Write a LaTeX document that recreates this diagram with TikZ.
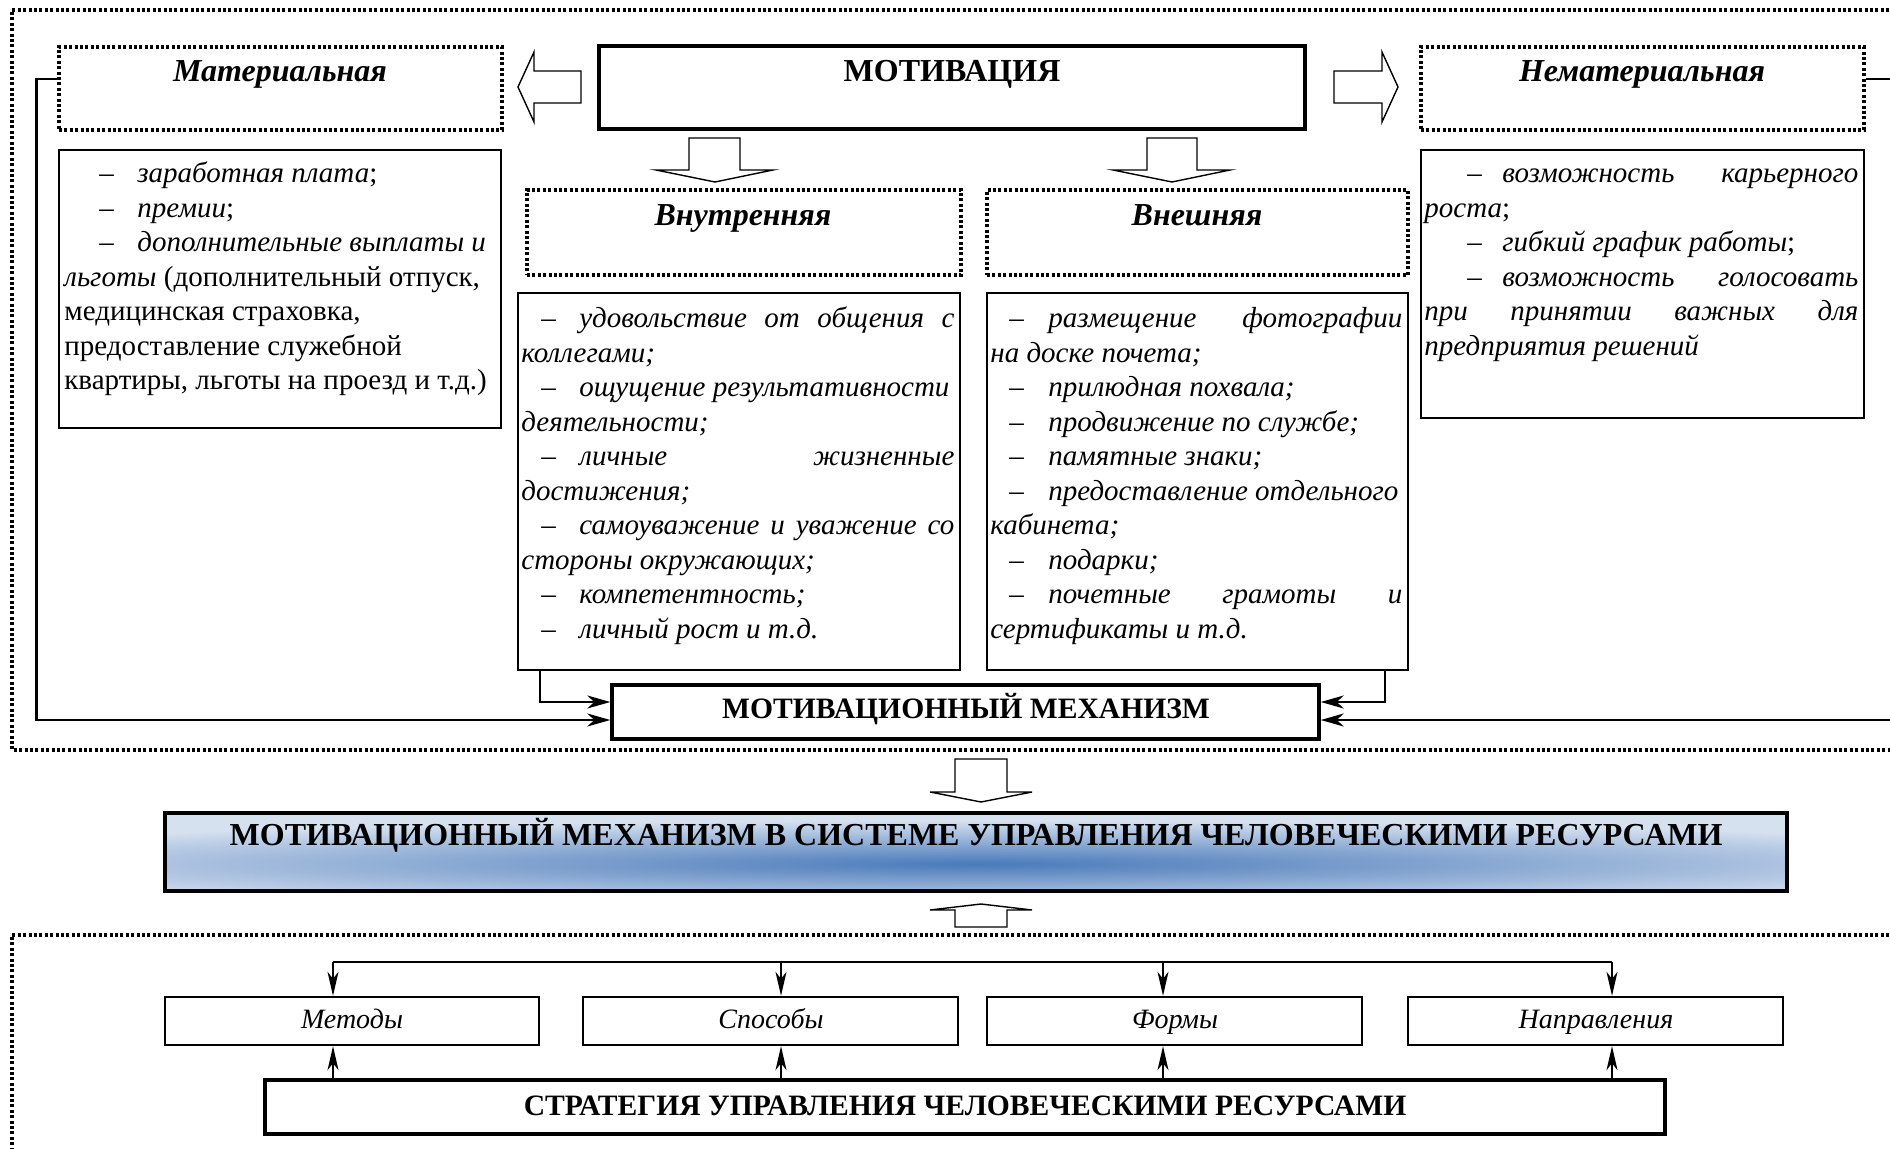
\documentclass[tikz,border=0pt]{standalone}
\usepackage{fontspec}
\setmainfont{Liberation Serif}
\usetikzlibrary{arrows.meta,fit,calc}
\definecolor{glight}{RGB}{214,225,240}
\definecolor{gdark}{RGB}{74,122,186}
\newcommand\rs{\spaceskip=0pt\xspaceskip=0pt\relax}
\newcommand\lead[2]{\makebox[#2][l]{\hspace*{#1}–}}
\newcommand\jl[2]{\makebox[#1][s]{\rs#2}}
\newcommand\bodyfont{\fontsize{14.5}{17.25}\selectfont}
\newcommand\headfont{\fontsize{16}{19}\selectfont\bfseries}
\newcommand\midfont{\fontsize{14.8}{18}\selectfont\bfseries}
\newcommand\smallfont{\fontsize{14}{16}\selectfont\itshape}
\begin{document}
\begin{tikzpicture}[x=0.5pt,y=-0.5pt,
  frame/.style={line width=1.6pt, dash pattern=on 1.5pt off 1.2pt},
  dotbox/.style={draw, line width=1.6pt, dash pattern=on 1.5pt off 1.2pt, inner sep=0pt},
  thinbox/.style={draw, line width=0.75pt, inner sep=0pt},
  thickbox/.style={draw, line width=1.7pt, inner sep=0pt},
  midbox/.style={draw, line width=1.2pt, inner sep=0pt},
  hollow/.style={draw, line width=0.7pt, fill=white, line join=miter},
  conn/.style={line width=1.1pt},
  arr/.style={conn, -{Stealth[length=11.5pt, width=6.5pt, inset=3.5pt]}},
  conn2/.style={line width=0.9pt},
  arr2/.style={conn2, -{Stealth[length=12pt, width=5.5pt, inset=3.5pt]}},
  head/.style={font=\headfont, inner sep=0pt, anchor=base},
  midhead/.style={font=\midfont, inner sep=0pt, anchor=base},
  ttl/.style={font=\headfont\itshape, inner sep=0pt, anchor=base},
  list/.style={font=\bodyfont\itshape, inner sep=0pt, anchor=north west, align=left},
  small/.style={font=\smallfont, inner sep=0pt, anchor=base}]
\useasboundingbox (0,0) rectangle (1890,1149);
\fill[white] (0,0) rectangle (1890,1149);

% outer dotted frames
\draw[frame] (1900,10) -- (12,10) -- (12,750) -- (1900,750);
\draw[frame] (1900,935) -- (12,935) -- (12,1160);

% top boxes
\node[dotbox, fit={(59,47) (502,130)}] (matB) {};
\node[ttl] (matT) at (280,82) {Материальная};
\node[thickbox, fit={(599,46) (1305,129)}] (motB) {};
\node[head] (motT) at (952,82) {МОТИВАЦИЯ};
\node[dotbox, fit={(1421,47) (1864,130)}] (nemB) {};
\node[ttl] (nemT) at (1642,82) {Нематериальная};

% hollow arrows left/right
\draw[hollow] (581,71) -- (534,71) -- (534,52) -- (518,87) -- (534,122) -- (534,103) -- (581,103) -- cycle;
\draw[hollow] (1334,71) -- (1382,71) -- (1382,52) -- (1398,87) -- (1382,122) -- (1382,103) -- (1334,103) -- cycle;
% hollow arrows down
\draw[hollow] (689,138) -- (740,138) -- (740,170) -- (773,170) -- (715,182) -- (656,170) -- (689,170) -- cycle;
\draw[hollow] (1147,138) -- (1197,138) -- (1197,170) -- (1230,170) -- (1172,182) -- (1113,170) -- (1147,170) -- cycle;

% second row titles
\node[dotbox, fit={(527,190) (961,275)}] (inB) {};
\node[ttl] (inT) at (743,226) {Внутренняя};
\node[dotbox, fit={(987,190) (1408,275)}] (exB) {};
\node[ttl] (exT) at (1197,226) {Внешняя};

% list boxes
\node[thinbox, fit={(59,150) (501,428)}] (matL) {};
\node[list, font=\bodyfont, text width=216.5pt] (matX) at (64,158) {\rs\strut\lead{17.5pt}{36.5pt}\textit{заработная плата};\\
\lead{17.5pt}{36.5pt}\textit{премии};\\
\lead{17.5pt}{36.5pt}\textit{дополнительные выплаты и}\\
\textit{льготы} (дополнительный отпуск,\\
медицинская страховка,\\
предоставление служебной\\
квартиры, льготы на проезд и т.д.)};

\node[thinbox, fit={(518,293) (960,670)}] (inL) {};
\node[list, text width=216.5pt] (inX) at (521,303) {\rs\strut\jl{216.5pt}{\lead{10pt}{29pt}удовольствие от общения с}\\
коллегами;\\
\lead{10pt}{29pt}ощущение результативности\\
деятельности;\\
\jl{216.5pt}{\lead{10pt}{29pt}личные жизненные}\\
достижения;\\
\jl{216.5pt}{\lead{10pt}{29pt}самоуважение и уважение со}\\
стороны окружающих;\\
\lead{10pt}{29pt}компетентность;\\
\lead{10pt}{29pt}личный рост и т.д.};

\node[thinbox, fit={(987,293) (1408,670)}] (exL) {};
\node[list, text width=206pt] (exX) at (990,303) {\rs\strut\jl{206pt}{\lead{9.5pt}{29pt}размещение фотографии}\\
на доске почета;\\
\lead{9.5pt}{29pt}прилюдная похвала;\\
\lead{9.5pt}{29pt}продвижение по службе;\\
\lead{9.5pt}{29pt}памятные знаки;\\
\lead{9.5pt}{29pt}предоставление отдельного\\
кабинета;\\
\lead{9.5pt}{29pt}подарки;\\
\jl{206pt}{\lead{9.5pt}{29pt}почетные грамоты и}\\
сертификаты и т.д.};

\node[thinbox, fit={(1421,150) (1864,418)}] (nemL) {};
\node[list, font=\bodyfont, text width=217pt] (nemX) at (1424,158) {\rs\strut\jl{217pt}{\lead{21.5pt}{39pt}\textit{возможность карьерного}}\\
\textit{роста};\\
\lead{21.5pt}{39pt}\textit{гибкий график работы};\\
\jl{217pt}{\lead{21.5pt}{39pt}\textit{возможность голосовать}}\\
\jl{217pt}{\textit{при принятии важных для}}\\
\textit{предприятия решений}};

% motivational mechanism
\node[thickbox, fit={(612,685) (1319,739)}] (mm) {};
\node[midhead] (mmT) at (966,718) {МОТИВАЦИОННЫЙ МЕХАНИЗМ};

% connectors into MM
\draw[arr] ([yshift=4.75pt]matB.west) -- ++(-21,0) |- ([yshift=-4pt]mm.west);
\draw[arr] ([xshift=11.5pt]inL.south west) |- ([yshift=5pt]mm.west);
\draw[arr] ([xshift=-12pt]exL.south east) |- ([yshift=5pt]mm.east);
\draw[arr] ([yshift=4.75pt]nemB.east) -- ++(40,0) |- ([yshift=-4pt]mm.east);

% hollow arrows middle
\draw[hollow] (955,759) -- (1007,759) -- (1007,792) -- (1032,792) -- (981,802) -- (930,792) -- (955,792) -- cycle;
\draw[hollow] (955,927) -- (955,910) -- (930,910) -- (981,904) -- (1032,910) -- (1007,910) -- (1007,927) -- cycle;

% gradient box
\fill[glight] (165,813) rectangle (1787,891);
\begin{scope}
\clip (165,813) rectangle (1787,891);
\shade[inner color=gdark, outer color=glight] (976,864) ellipse (1150 and 44);
\end{scope}
\node[thickbox, fit={(165,813) (1787,891)}] (grad) {};
\node[head] (gradT) at (976,845) {МОТИВАЦИОННЫЙ МЕХАНИЗМ В СИСТЕМЕ УПРАВЛЕНИЯ ЧЕЛОВЕЧЕСКИМИ РЕСУРСАМИ};

% bottom boxes
\node[midbox, fit={(165,997) (539,1045)}] (m1) {};
\node[small] (m1T) at (352,1028) {Методы};
\node[midbox, fit={(583,997) (958,1045)}] (m2) {};
\node[small] (m2T) at (771,1028) {Способы};
\node[midbox, fit={(987,997) (1362,1045)}] (m3) {};
\node[small] (m3T) at (1175,1028) {Формы};
\node[midbox, fit={(1408,997) (1783,1045)}] (m4) {};
\node[small] (m4T) at (1596,1028) {Направления};
\node[thickbox, fit={(265,1080) (1665,1134)}] (str) {};
\node[midhead] (strT) at (965,1115) {СТРАТЕГИЯ УПРАВЛЕНИЯ ЧЕЛОВЕЧЕСКИМИ РЕСУРСАМИ};

\coordinate (b1) at (333,962);
\coordinate (b2) at (781,962);
\coordinate (b3) at (1163,962);
\coordinate (b4) at (1612,962);
\draw[conn2] (b1) -- (b4);
\foreach \b/\m in {b1/m1,b2/m2,b3/m3,b4/m4}{
  \draw[arr2] (\b) -- (\b |- \m.north);
  \draw[arr2] (\b |- str.north) -- (\b |- \m.south);
}
\end{tikzpicture}
\end{document}
